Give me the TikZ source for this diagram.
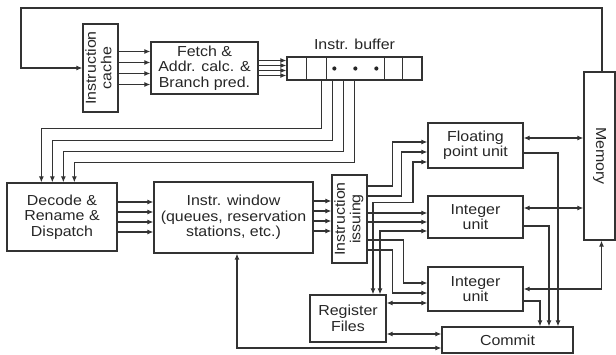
\documentclass[tikz,border=0pt]{standalone}
\usepackage{fontspec}
\setmainfont{Liberation Sans}[FakeStretch=1.1]
\usetikzlibrary{arrows.meta,positioning}

\begin{document}
\begin{tikzpicture}[
  x=1pt, y=-1pt,
  >={Latex[length=6pt,width=5pt]},
  unitbox/.style={draw=black!80, line width=1.3pt, align=center, inner sep=0pt,
    text=black!85, font=\fontsize{14.5}{15.5}\selectfont},
  wire/.style={draw=black!80, line width=1.1pt}
]
  \useasboundingbox (0,0) rectangle (616,355);

  \node[unitbox, minimum width=35pt, minimum height=88pt] (cache) at (100.5,68)
    {\rotatebox{90}{\begin{tabular}{@{}c@{}}Instruction\\cache\end{tabular}}};
  \node[unitbox, minimum width=107pt, minimum height=52pt] (fetch) at (204.5,68)
    {Fetch \&\\Addr. calc. \&\\Branch pred.};
  \node[unitbox, minimum width=135pt, minimum height=23pt] (buffer) at (354.5,68.5) {};
  \node[unitbox, draw=none, inner sep=3pt, above=3pt of buffer] (buftitle) {Instr. buffer};
  \node[unitbox, minimum width=110pt, minimum height=68pt] (decode) at (62,217)
    {Decode \&\\Rename \&\\Dispatch};
  \node[unitbox, minimum width=159pt, minimum height=71pt] (window) at (233.5,217.5)
    {Instr. window\\(queues, reservation\\stations, etc.)};
  \node[unitbox, minimum width=35pt, minimum height=88pt] (issue) at (349.5,219)
    {\rotatebox{90}{\begin{tabular}{@{}c@{}}Instruction\\issuing\end{tabular}}};
  \node[unitbox, minimum width=95pt, minimum height=45pt] (fpu) at (475.5,145.5)
    {Floating\\point unit};
  \node[unitbox, minimum width=95pt, minimum height=42pt] (intA) at (475.5,217)
    {Integer\\unit};
  \node[unitbox, minimum width=95pt, minimum height=44pt] (intB) at (475.5,289)
    {Integer\\unit};
  \node[unitbox, minimum width=76pt, minimum height=47pt] (regs) at (348,318.5)
    {Register\\Files};
  \node[unitbox, minimum width=131pt, minimum height=26pt] (commit) at (507.5,340)
    {Commit};
  \node[unitbox, minimum width=31pt, minimum height=168pt] (memory) at (599.5,156)
    {\rotatebox{-90}{Memory}};
  \coordinate (loop) at (21,8);

  % buffer cells
  \foreach \cx in {20,40,98,116}
    \draw[draw=black!80, line width=1.3pt] ([xshift=\cx pt]buffer.north west) -- ([xshift=\cx pt]buffer.south west);
  \foreach \cx in {48,69,90}
    \fill[black!85] ([xshift=\cx pt]buffer.west) circle (2.1pt);

  % front end
  \draw[wire, ->] ([xshift=2.5pt]memory.north) |- (loop) |- (cache.west);
  \foreach \dy in {-16.5,-5.5,5.5,16.5}
    \draw[wire, ->] ([yshift=\dy pt]cache.east) -- ([yshift=\dy pt]fetch.west);
  \foreach \dy in {-7.5,-2.5,2.5,7.5}
    \draw[wire, ->] ([yshift=\dy pt]fetch.east) -- ([yshift=\dy pt]fetch.east -| buffer.west);
  \foreach \dx/\dd in {35/48, 46/60, 57/71, 68/82}
    \draw[wire, ->] ([xshift=\dx pt]buffer.south west) -- ++(0,\dd) -| ([xshift=\dx pt]decode.north west);
  \foreach \dy in {-15,-5,5,15}
    \draw[wire, ->] ([yshift=\dy pt]decode.east) -- ([yshift=\dy pt]decode.east -| window.west);
  \foreach \dy in {16.5,6.5,-3.5,-13.5}
    \draw[wire, ->] ([yshift=\dy pt]window.east) -- ([yshift=\dy pt]window.east -| issue.west);

  % issue to units
  \draw[wire, ->] ([yshift=33pt]issue.east) -- ++(25,0) |- ([yshift=3.5pt]fpu.west);
  \draw[wire, ->] ([yshift=23pt]issue.east) -- ++(34,0) |- ([yshift=-6.5pt]fpu.west);
  \draw[wire, <->] ([xshift=25pt]regs.north) -- ++(0,-92) -- ++(40,0) |- ([yshift=-16.5pt]fpu.west);
  \foreach \dy in {6,-3}
    \draw[wire, ->] ([yshift=\dy pt]issue.east) -- ([yshift=\dy pt]issue.east -| intA.west);
  \draw[wire, <->] ([xshift=32pt]regs.north) |- ([yshift=-14pt]intA.west);
  \draw[wire, ->] ([yshift=-21pt]issue.east) -- ++(36,0) |- ([yshift=6pt]intB.west);
  \draw[wire, ->] ([yshift=-31pt]issue.east) -- ++(25,0) |- ([yshift=-4pt]intB.west);
  \draw[wire, <->] ([yshift=-14pt]intB.west) -- ([yshift=-14pt]intB.west -| regs.east);

  % memory and commit
  \draw[wire, <->] ([yshift=7.5pt]fpu.east) -- ([yshift=7.5pt]fpu.east -| memory.west);
  \draw[wire, <->] ([yshift=9pt]intA.east) -- ([yshift=9pt]intA.east -| memory.west);
  \draw[wire, <->] (intB.east) -| ([xshift=2pt]memory.south);
  \draw[wire, ->] ([yshift=-7.5pt]fpu.east) -| ([xshift=50.5pt]commit.north);
  \draw[wire, ->] ([yshift=-9pt]intA.east) -| ([xshift=41.5pt]commit.north);
  \draw[wire, ->] ([yshift=-12pt]intB.east) -| ([xshift=32.5pt]commit.north);
  \draw[wire, <->] ([yshift=6pt]commit.west) -- ([yshift=6pt]commit.west -| regs.east);
  \draw[wire, <->] ([xshift=3.5pt]window.south) |- ([yshift=-8pt]commit.west);
\end{tikzpicture}
\end{document}
